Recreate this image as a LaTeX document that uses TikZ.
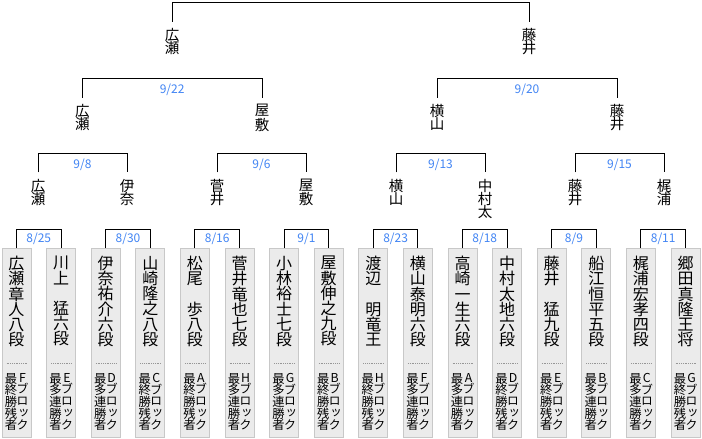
\documentclass[tikz,border=0pt]{standalone}
\usepackage{fontspec}
\setmainfont{Noto Sans CJK JP}
\newfontfamily\vjp[RawFeature=+vert]{Noto Sans CJK JP}
\usetikzlibrary{calc}
\definecolor{datec}{RGB}{66,133,244}
\definecolor{boxfill}{RGB}{235,235,235}
\definecolor{boxline}{RGB}{200,200,200}
\definecolor{dotc}{RGB}{150,150,150}
\tikzset{
  conn/.style={draw=black,line width=1pt},
  lbl/.style={anchor=north,inner xsep=0pt,inner ysep=6.5pt,align=center,
    font=\fontsize{14.5}{13.4}\selectfont},
  pbox/.style={anchor=north,draw=boxline,fill=boxfill,line width=1pt,
    minimum width=29pt,minimum height=189pt,inner sep=0pt},
  pname/.style={anchor=north,inner sep=0pt,align=center,
    font=\fontsize{16}{15.2}\selectfont},
  psub/.style={anchor=north,inner sep=0pt,align=center,
    font=\fontsize{12.3}{11.7}\selectfont},
  psubr/.style={psub,font=\vjp\fontsize{12.3}{11.7}\selectfont},
  sepline/.style={draw=dotc,line width=0.8pt,dash pattern=on 0.8pt off 1pt},
  datelbl/.style={text=datec,inner sep=0pt,font=\fontsize{12}{12}\selectfont}
}
\newcommand\pbox[5]{%
  \node[pbox] (#1) at (#2,248) {};
  \node[pname] (#1n) at ($(#1.north)+(0,8)$) {#3};
  \draw[sepline] ($(#1.north)+(-10,115)$) -- ($(#1.north)+(10,115)$);
  \node[psub] (#1l) at ($(#1.north)+(-5.5,125)$) {#4};
  \node[psubr] (#1r) at ($(#1.north)+(6,125)$) {#5};
}
\begin{document}
\begin{tikzpicture}[x=1pt,y=-1pt]
\fill[white] (0,0) rectangle (702,439);
\useasboundingbox (0,0) rectangle (702,439);

% Level 1
\node[lbl] (L1a) at (172,21.7) {広\\瀬};
\node[lbl] (L1b) at (529,21.7) {藤\\井};
% Level 2
\node[lbl] (L2a) at (82.3,97.7) {広\\瀬};
\node[lbl] (L2b) at (262,97.7) {屋\\敷};
\node[lbl] (L2c) at (437,97.7) {横\\山};
\node[lbl] (L2d) at (617,97.7) {藤\\井};
% Level 3
\node[lbl] (L3a) at (38,172.3) {広\\瀬};
\node[lbl] (L3b) at (127,172.3) {伊\\奈};
\node[lbl] (L3c) at (217,172.3) {菅\\井};
\node[lbl] (L3d) at (306,172.3) {屋\\敷};
\node[lbl] (L3e) at (396,172.3) {横\\山};
\node[lbl] (L3f) at (485,172.3) {中\\村\\太};
\node[lbl] (L3g) at (575,172.3) {藤\\井};
\node[lbl] (L3h) at (664,172.3) {梶\\浦};

% Players
\pbox{b1}{16.5}{広\\瀬\\章\\人\\八\\段}{最\\終\\勝\\残\\者}{F\\ブ\\ロ\\ッ\\ク}
\pbox{b2}{61.1}{川\\上\\　\\猛\\六\\段}{最\\多\\連\\勝\\者}{E\\ブ\\ロ\\ッ\\ク}
\pbox{b3}{105.7}{伊\\奈\\祐\\介\\六\\段}{最\\多\\連\\勝\\者}{D\\ブ\\ロ\\ッ\\ク}
\pbox{b4}{150.3}{山\\崎\\隆\\之\\八\\段}{最\\終\\勝\\残\\者}{C\\ブ\\ロ\\ッ\\ク}
\pbox{b5}{194.9}{松\\尾\\　\\歩\\八\\段}{最\\終\\勝\\残\\者}{A\\ブ\\ロ\\ッ\\ク}
\pbox{b6}{239.5}{菅\\井\\竜\\也\\七\\段}{最\\多\\連\\勝\\者}{H\\ブ\\ロ\\ッ\\ク}
\pbox{b7}{284.1}{小\\林\\裕\\士\\七\\段}{最\\多\\連\\勝\\者}{G\\ブ\\ロ\\ッ\\ク}
\pbox{b8}{328.7}{屋\\敷\\伸\\之\\九\\段}{最\\終\\勝\\残\\者}{B\\ブ\\ロ\\ッ\\ク}
\pbox{b9}{373.3}{渡\\辺\\　\\明\\竜\\王}{最\\終\\勝\\残\\者}{H\\ブ\\ロ\\ッ\\ク}
\pbox{b10}{417.9}{横\\山\\泰\\明\\六\\段}{最\\多\\連\\勝\\者}{F\\ブ\\ロ\\ッ\\ク}
\pbox{b11}{462.5}{高\\崎\\一\\生\\六\\段}{最\\多\\連\\勝\\者}{A\\ブ\\ロ\\ッ\\ク}
\pbox{b12}{507.1}{中\\村\\太\\地\\六\\段}{最\\終\\勝\\残\\者}{D\\ブ\\ロ\\ッ\\ク}
\pbox{b13}{551.7}{藤\\井\\　\\猛\\九\\段}{最\\終\\勝\\残\\者}{E\\ブ\\ロ\\ッ\\ク}
\pbox{b14}{596.3}{船\\江\\恒\\平\\五\\段}{最\\多\\連\\勝\\者}{B\\ブ\\ロ\\ッ\\ク}
\pbox{b15}{640.9}{梶\\浦\\宏\\孝\\四\\段}{最\\多\\連\\勝\\者}{C\\ブ\\ロ\\ッ\\ク}
\pbox{b16}{685.5}{郷\\田\\真\\隆\\王\\将}{最\\終\\勝\\残\\者}{G\\ブ\\ロ\\ッ\\ク}

% Connectors level 4
\draw[conn] (b1.north) -- ++(0,-19) -| (b2.north);
\draw[conn] (b3.north) -- ++(0,-19) -| (b4.north);
\draw[conn] (b5.north) -- ++(0,-19) -| (b6.north);
\draw[conn] (b7.north) -- ++(0,-19) -| (b8.north);
\draw[conn] (b9.north) -- ++(0,-19) -| (b10.north);
\draw[conn] (b11.north) -- ++(0,-19) -| (b12.north);
\draw[conn] (b13.north) -- ++(0,-19) -| (b14.north);
\draw[conn] (b15.north) -- ++(0,-19) -| (b16.north);
\node[datelbl] (d1) at ($(b1.north)!0.5!(b2.north)+(0,-9.5)$) {8/25};
\node[datelbl] (d2) at ($(b3.north)!0.5!(b4.north)+(0,-9.5)$) {8/30};
\node[datelbl] (d3) at ($(b5.north)!0.5!(b6.north)+(0,-9.5)$) {8/16};
\node[datelbl] (d4) at ($(b7.north)!0.5!(b8.north)+(0,-9.5)$) {9/1};
\node[datelbl] (d5) at ($(b9.north)!0.5!(b10.north)+(0,-9.5)$) {8/23};
\node[datelbl] (d6) at ($(b11.north)!0.5!(b12.north)+(0,-9.5)$) {8/18};
\node[datelbl] (d7) at ($(b13.north)!0.5!(b14.north)+(0,-9.5)$) {8/9};
\node[datelbl] (d8) at ($(b15.north)!0.5!(b16.north)+(0,-9.5)$) {8/11};

% Connectors level 3
\draw[conn] (L3a.north) -- ++(0,-19) -| (L3b.north);
\draw[conn] (L3c.north) -- ++(0,-19) -| (L3d.north);
\draw[conn] (L3e.north) -- ++(0,-19) -| (L3f.north);
\draw[conn] (L3g.north) -- ++(0,-19) -| (L3h.north);
\node[datelbl] (e1) at ($(L3a.north)!0.5!(L3b.north)+(0,-7.8)$) {9/8};
\node[datelbl] (e2) at ($(L3c.north)!0.5!(L3d.north)+(0,-7.8)$) {9/6};
\node[datelbl] (e3) at ($(L3e.north)!0.5!(L3f.north)+(0,-7.8)$) {9/13};
\node[datelbl] (e4) at ($(L3g.north)!0.5!(L3h.north)+(0,-7.8)$) {9/15};

% Connectors level 2
\draw[conn] (L2a.north) -- ++(0,-19.4) -| (L2b.north);
\draw[conn] (L2c.north) -- ++(0,-19.4) -| (L2d.north);
\node[datelbl] (f1) at ($(L2a.north)!0.5!(L2b.north)+(0,-8)$) {9/22};
\node[datelbl] (f2) at ($(L2c.north)!0.5!(L2d.north)+(0,-8)$) {9/20};

% Connector level 1
\draw[conn] (L1a.north) -- ++(0,-19.4) -| (L1b.north);
\end{tikzpicture}
\end{document}
